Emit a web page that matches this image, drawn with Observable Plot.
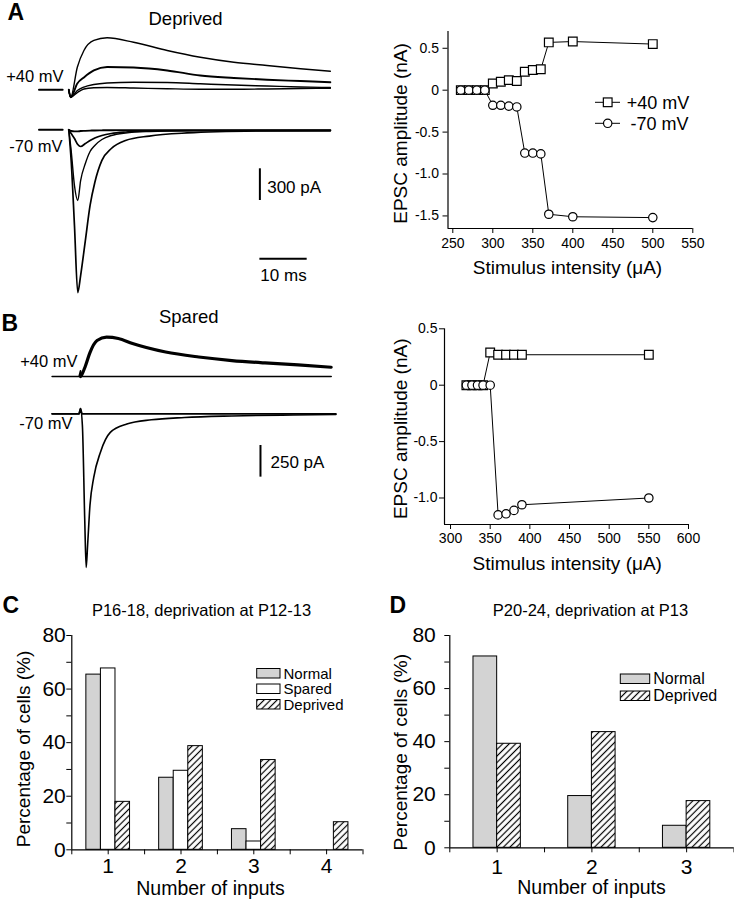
<!DOCTYPE html>
<html><head><meta charset="utf-8">
<script src="https://cdn.jsdelivr.net/npm/d3@7"></script>
<script src="https://cdn.jsdelivr.net/npm/@observablehq/plot@0.6"></script>
<style>
html,body{margin:0;padding:0;background:#fff;}
#fig{position:relative;width:734px;height:900px;}
#fig svg{position:absolute;overflow:visible;}
</style></head><body><div id="fig"></div>
<script>
// ---------- Panel A traces (time in ms, current in pA) ----------
const tPreA = [-6.3, -1.3];
const preA = [0, 0];
const tA40 = [0, 0.4, 1.8, 3.2, 5.3, 8.1, 13.7, 20.8, 27.8, 34.9, 41.9, 49, 55.3];
const a40_1 = [0, -70, 214, 372, 467, 492, 450, 372, 308, 261, 230, 199, 176];
const a40_2 = [0, -70, 60, 117, 183, 216, 211, 183, 135, 112, 95, 83, 72];
const a40_3 = [0, -70, -7, 26, 50, 64, 72, 69, 57, 45, 36, 26, 22];
const a40_4 = [0, -70, -26, 8, 19, 22, 17, 10, 5, 5, 8, 12, 15];
const tA70 = [0, 0.5, 1.2, 1.9, 2.5, 3.5, 4.5, 5.5, 7, 9, 12, 17, 25, 40, 55.3];
const a70_1 = [0, -290, -906, -1540, -1379, -1048, -716, -499, -290, -177, -101, -59, -30, -11, -7];
const a70_2 = [0, -196, -528, -669, -480, -319, -205, -148, -92, -54, -30, -16, -9, -7, -7];
const a70_3 = [0, -35, -82, -139, -158, -130, -101, -78, -54, -35, -21, -11, -7, -7, -7];
const a70_4 = [0, -10, -15, -15, -12, -10, -8, -6, -5, -4, -3, -3, -3, -3, -3];

// ---------- Panel B traces ----------
const tB40 = [0, 0.3, 1, 2, 3.5, 5.5, 8, 11, 18, 25, 32, 39, 46, 53];
const b40 = [0, 16, 79, 189, 284, 310, 300, 260, 193, 154, 126, 107, 92, 73];
const tB40flat = [-6, -0.3, 0, 0.3, 53];
const b40flat = [0, 0, 45, 0, 0];
const tB70 = [-6, -0.3, 0, 0.4, 0.9, 1.2, 1.5, 2, 2.8, 4.2, 6.3, 9.8, 15, 22, 32, 45, 54];
const b70 = [0, 0, 40, -92, -842, -1213, -1039, -723, -502, -305, -147, -81, -47, -29, -17, -9, -6];
const tB70flat = [-6, -0.3, 0, 0.3, 54];
const b70flat = [0, 0, 40, 0, 0];

// ---------- Input-output curves (stimulus µA, EPSC nA) ----------
const stimA = [260, 270, 280, 290, 300, 310, 320, 330, 340, 350, 360, 370, 400, 500];
const epscA40 = [0, 0, 0, 0, 0.08, 0.10, 0.12, 0.11, 0.22, 0.24, 0.25, 0.57, 0.58, 0.55];
const epscA70 = [0, 0, 0, 0, -0.18, -0.18, -0.19, -0.20, -0.75, -0.75, -0.76, -1.48, -1.51, -1.52];
const stimB = [320, 327, 334, 341, 350, 360, 370, 380, 390, 550];
const epscB40 = [0, 0, 0, 0, 0.29, 0.27, 0.27, 0.27, 0.27, 0.27];
const epscB70 = [0, 0, 0, 0, 0, -1.15, -1.14, -1.11, -1.06, -1.00];
const ticksXA = [250, 300, 350, 400, 450, 500, 550];
const ticksYA = [0.5, 0, -0.5, -1.0, -1.5];
const ticksXB = [300, 350, 400, 450, 500, 550, 600];
const ticksYB = [0.5, 0, -0.5, -1.0];

// ---------- Bar charts (% of cells) ----------
const inputsC = [1, 2, 3, 4];
const normalC = [65.4, 26.9, 7.7, 0];
const sparedC = [67.7, 29.5, 3.1, 0];
const deprivedC = [17.9, 38.7, 33.5, 10.3];
const inputsD = [1, 2, 3];
const normalD = [72.1, 19.5, 8.3];
const deprivedD = [39.2, 43.6, 17.6];
const ticksPct = [0, 10, 20, 30, 40, 50, 60, 70, 80];

// ---------- helpers ----------
const FONT = '"Liberation Sans", Arial, Helvetica, sans-serif';
const STYLE = {background: "transparent", fontFamily: FONT, overflow: "visible", color: "black"};
const fig = document.getElementById("fig");
function place(svg, left, top) { svg.style.left = left + "px"; svg.style.top = top + "px"; fig.appendChild(svg); return svg; }
function labeler(mL, mT) {
  return (s, x, y, o = {}) => Plot.text([s], {text: d => d, frameAnchor: "top-left", dx: x - mL, dy: y - mT,
    lineAnchor: "middle", fill: "black", fontFamily: FONT, ...o});
}
function series(t, v) { return t.map((ti, i) => ({t: ti, v: v[i]})); }
function pts(s, v) { return s.map((si, i) => ({s: si, v: v[i]})); }
const fmtNA = d => d === 0 ? "0" : d.toFixed(1);

// ---------- Panel A traces ----------
{
  const m = {l: 37.55, r: 39.2, t: 23.63, b: 1.63};
  const L = labeler(m.l, m.t);
  const off = 378.5; // display offset of +40 mV traces (pA)
  const up = d => d.v + off;
  const tr40 = [a40_1, a40_2, a40_3, a40_4].map(v => series(tA40, v));
  const tr70 = [a70_1, a70_2, a70_3, a70_4].map(v => series(tA70, v));
  const w40 = [1.4, 1.9, 1.4, 1.4], w70 = [1.7, 1.4, 1.7, 1.9];
  const svg = Plot.plot({
    width: 370, height: 300, marginLeft: m.l, marginRight: m.r, marginTop: m.t, marginBottom: m.b,
    x: {domain: [-6.5, 55.5], axis: null}, y: {domain: [-1600, 1000], axis: null}, style: STYLE,
    marks: [
      Plot.line(series(tPreA, preA), {x: "t", y: up, stroke: "black", strokeWidth: 2}),
      Plot.line(series(tPreA, preA), {x: "t", y: "v", stroke: "black", strokeWidth: 2}),
      ...tr40.map((d, i) => Plot.line(d, {x: "t", y: up, stroke: "black", strokeWidth: w40[i], curve: "monotone-x"})),
      ...tr70.map((d, i) => Plot.line(d, {x: "t", y: "v", stroke: "black", strokeWidth: w70[i], curve: "monotone-x"})),
      Plot.ruleX([40.4], {y1: -369, y2: -669, stroke: "black", strokeWidth: 2}),
      Plot.ruleY([-1221], {x1: 40.4, x2: 50.4, stroke: "black", strokeWidth: 2}),
      L("A", 7, 12, {fontSize: 23, fontWeight: "bold", textAnchor: "start"}),
      L("Deprived", 185, 18.5, {fontSize: 18.5, textAnchor: "middle"}),
      L("+40 mV", 63, 76.7, {fontSize: 16.5, textAnchor: "end"}),
      L("-70 mV", 62, 146.7, {fontSize: 16.5, textAnchor: "end"}),
      L("300 pA", 266.7, 187, {fontSize: 17, textAnchor: "start"}),
      L("10 ms", 283, 275, {fontSize: 17, textAnchor: "middle"})
    ]
  });
  place(svg, 0, 0);
}

// ---------- Panel B traces ----------
{
  const m = {l: 51.62, r: 34.58, t: 9.27, b: 12};
  const L = labeler(m.l, m.t);
  const off = 294.4;
  const up = d => d.v + off;
  const svg = Plot.plot({
    width: 370, height: 300, marginLeft: m.l, marginRight: m.r, marginTop: m.t, marginBottom: m.b,
    x: {domain: [-6, 54], axis: null}, y: {domain: [-1300, 900], axis: null}, style: STYLE,
    marks: [
      Plot.line(series(tB40flat, b40flat), {x: "t", y: up, stroke: "black", strokeWidth: 1.6}),
      Plot.line(series(tB40, b40), {x: "t", y: up, stroke: "black", strokeWidth: 3.2, curve: "monotone-x"}),
      Plot.line(series(tB70flat, b70flat), {x: "t", y: "v", stroke: "black", strokeWidth: 1.8}),
      Plot.line(series(tB70, b70), {x: "t", y: "v", stroke: "black", strokeWidth: 1.6, curve: "monotone-x"}),
      Plot.ruleX([38.05], {y1: -250, y2: -500, stroke: "black", strokeWidth: 2}),
      L("B", 1, 33.3, {fontSize: 23, fontWeight: "bold", textAnchor: "start"}),
      L("Spared", 188.3, 26.7, {fontSize: 18.5, textAnchor: "middle"}),
      L("+40 mV", 77, 71.7, {fontSize: 16.5, textAnchor: "end"}),
      L("-70 mV", 72, 133.3, {fontSize: 16.5, textAnchor: "end"}),
      L("250 pA", 270, 171.7, {fontSize: 17, textAnchor: "start"})
    ]
  });
  place(svg, 0, 290);
}

// ---------- I/O scatter plots ----------
function ioPlot(o) {
  const L = labeler(o.m.l, o.m.t);
  const svg = Plot.plot({
    width: o.w, height: o.h, marginLeft: o.m.l, marginRight: o.m.r, marginTop: o.m.t, marginBottom: o.m.b,
    x: {domain: o.xd}, y: {domain: o.yd}, style: STYLE,
    marks: [
      Plot.ruleX([o.xd[0]], {stroke: "black", strokeWidth: 1.2}),
      Plot.ruleY([o.yd[0]], {stroke: "black", strokeWidth: 1.2}),
      Plot.axisX({ticks: o.tx, tickSize: 5, tickPadding: o.px, fontSize: 14, label: null, fill: "black", fontFamily: FONT}),
      Plot.axisY({ticks: o.ty, tickSize: 5, tickPadding: o.py, fontSize: 14, label: null, tickFormat: fmtNA, fill: "black", fontFamily: FONT}),
      Plot.line(o.d40, {x: "s", y: "v", stroke: "black", strokeWidth: 1}),
      Plot.line(o.d70, {x: "s", y: "v", stroke: "black", strokeWidth: 1}),
      Plot.dot(o.d40, {x: "s", y: "v", symbol: "square", r: 4.9, fill: "white", stroke: "black", strokeWidth: 1.2}),
      Plot.dot(o.d70, {x: "s", y: "v", symbol: "circle", r: 4.2, fill: "white", stroke: "black", strokeWidth: 1.2}),
      L("EPSC amplitude (nA)", o.yl[0], o.yl[1], {fontSize: 19, rotate: -90, textAnchor: "middle"}),
      L("Stimulus intensity (\u03BCA)", o.xl[0], o.xl[1], {fontSize: 19, textAnchor: "middle"})
    ]
  });
  return svg;
}
{
  const svg = ioPlot({w: 364, h: 290, m: {l: 77.5, r: 41.7, t: 31, b: 62}, xd: [244, 550], yd: [-1.65, 0.7],
    tx: ticksXA, ty: ticksYA, px: 5, py: 4, d40: pts(stimA, epscA40), d70: pts(stimA, epscA70),
    yl: [30, 133], xl: [197, 267]});
  // legend
  const g = d3.select(svg).append("g").attr("font-family", FONT).attr("font-size", 18).attr("text-anchor", "start");
  [["+40 mV", 102.3, "sq", 256.7], ["-70 mV", 123.3, "ci", 260.5]].forEach(([lab, y, s, tx]) => {
    g.append("line").attr("x1", 225).attr("x2", 250).attr("y1", y).attr("y2", y).attr("stroke", "black");
    if (s === "sq") g.append("rect").attr("x", 237.7 - 4.35).attr("y", y - 4.35).attr("width", 8.7).attr("height", 8.7)
      .attr("fill", "white").attr("stroke", "black").attr("stroke-width", 1.2);
    else g.append("circle").attr("cx", 237.7).attr("cy", y).attr("r", 4.2).attr("fill", "white").attr("stroke", "black").attr("stroke-width", 1.2);
    g.append("text").attr("x", tx).attr("y", y).attr("dy", "0.35em").attr("fill", "black").attr("text-anchor", "start").text(lab);
  });
  place(svg, 370, 0);
}
{
  const svg = ioPlot({w: 364, h: 300, m: {l: 74, r: 46, t: 38.3, b: 66}, xd: [292.4, 600], yd: [-1.235, 0.5],
    tx: ticksXB, ty: ticksYB, px: 4, py: 2, d40: pts(stimB, epscB40), d70: pts(stimB, epscB70),
    yl: [30, 138.3], xl: [196.7, 273.3]});
  place(svg, 370, 290);
}

// ---------- Bar charts ----------
function addHatch(svg, id) {
  const p = d3.select(svg).insert("defs", ":first-child").append("pattern").attr("id", id)
    .attr("patternUnits", "userSpaceOnUse").attr("width", 4.6).attr("height", 4.6).attr("patternTransform", "rotate(45)");
  p.append("rect").attr("width", 4.6).attr("height", 4.6).attr("fill", "white");
  p.append("line").attr("x1", 2.3).attr("x2", 2.3).attr("y1", 0).attr("y2", 4.6).attr("stroke", "black").attr("stroke-width", 1.2);
}
function barPlot(o) {
  const L = labeler(o.m.l, o.m.t);
  const marks = [];
  o.groups.forEach((g, k) => {
    const rows = o.inputs.map((n, i) => ({n, v: g.vals[i]})).filter(d => d.v > 0);
    marks.push(Plot.rect(rows, {x1: d => d.n + o.start + k * o.bw, x2: d => d.n + o.start + (k + 1) * o.bw,
      y1: () => 0, y2: "v", fill: g.fill, stroke: "black", strokeWidth: 1}));
  });
  const half = d3.range(o.xd[0], o.xd[1] + 0.01, 0.5);
  const svg = Plot.plot({
    width: o.w, height: o.h, marginLeft: o.m.l, marginRight: o.m.r, marginTop: o.m.t, marginBottom: o.m.b,
    x: {domain: o.xd}, y: {domain: [0, 80]}, style: STYLE,
    marks: [
      ...marks,
      Plot.ruleX([o.xd[0]], {stroke: "black", strokeWidth: 1.2}),
      Plot.ruleY([0], {stroke: "black", strokeWidth: 1.2}),
      Plot.axisX({ticks: half, tickSize: 5, tickPadding: o.px, fontSize: 21, label: null, fill: "black", fontFamily: FONT,
        tickFormat: d => Number.isInteger(d) ? String(d) : ""}),
      Plot.axisY({ticks: ticksPct, tickSize: 5, tickPadding: o.py, fontSize: 21, label: null, fill: "black", fontFamily: FONT,
        tickFormat: d => d % 20 === 0 ? String(d) : ""}),
      L(o.letter, o.lx, 15, {fontSize: 23, fontWeight: "bold", textAnchor: "start"}),
      L(o.title, o.tx, 20.5, {fontSize: 16.5, textAnchor: "middle"}),
      L("Percentage of cells (%)", o.yl[0], o.yl[1], {fontSize: 19, rotate: -90, textAnchor: "middle"}),
      L("Number of inputs", o.xl[0], o.xl[1], {fontSize: 19.5, textAnchor: "middle"})
    ]
  });
  addHatch(svg, o.hatch);
  const lg = d3.select(svg).append("g").attr("font-family", FONT).attr("font-size", o.lg.fs).attr("text-anchor", "start");
  o.groups.forEach((g, k) => {
    const y = o.lg.y + k * o.lg.step;
    lg.append("rect").attr("x", o.lg.x).attr("y", y).attr("width", o.lg.w).attr("height", o.lg.h)
      .attr("fill", g.fill).attr("stroke", "black");
    lg.append("text").attr("x", o.lg.x + o.lg.w + 3.5).attr("y", y + o.lg.h / 2).attr("dy", "0.35em")
      .attr("fill", "black").attr("text-anchor", "start").text(g.name);
  });
  return svg;
}
{
  const svg = barPlot({w: 367, h: 310, m: {l: 71.3, r: 4.5, t: 45, b: 50.7}, xd: [0.5, 4.5], inputs: inputsC,
    start: -0.3, bw: 0.2, px: 3, py: 1, hatch: "hatchC",
    groups: [{name: "Normal", vals: normalC, fill: "#d3d3d3"}, {name: "Spared", vals: sparedC, fill: "#ffffff"},
             {name: "Deprived", vals: deprivedC, fill: "url(#hatchC)"}],
    letter: "C", lx: 2, title: "P16-18, deprivation at P12-13", tx: 201,
    yl: [23.3, 158.5], xl: [210, 298],
    lg: {x: 256.7, y: 78.5, w: 23.3, h: 9.5, step: 15.5, fs: 15}});
  place(svg, 0, 590);
}
{
  const svg = barPlot({w: 367, h: 310, m: {l: 82.3, r: 0.5, t: 45, b: 52.7}, xd: [0.5, 3.5], inputs: inputsD,
    start: -0.25, bw: 0.25, px: 6, py: 9, hatch: "hatchD",
    groups: [{name: "Normal", vals: normalD, fill: "#d3d3d3"}, {name: "Deprived", vals: deprivedD, fill: "url(#hatchD)"}],
    letter: "D", lx: 22, title: "P20-24, deprivation at P13", tx: 223,
    yl: [33, 161.7], xl: [224, 297],
    lg: {x: 253.3, y: 84, w: 29.4, h: 9.5, step: 17, fs: 16}});
  place(svg, 367, 590);
}
</script></body></html>
